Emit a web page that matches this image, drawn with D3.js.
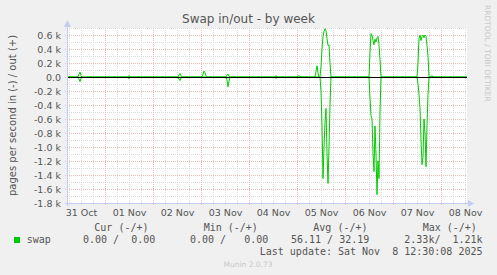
<!DOCTYPE html>
<html><head><meta charset="utf-8">
<script src="https://cdn.jsdelivr.net/npm/d3@7"></script>
<style>
body{margin:0;background:#f0f0f0}
svg{display:block}
text{white-space:pre}
</style>
</head><body>
<svg id="c" width="497" height="275"></svg>
<script>
// ---- data (pages per second) ----
const times = [
"2025-10-31 05:00",
"2025-10-31 10:30","2025-10-31 11:00","2025-10-31 11:30","2025-10-31 12:00","2025-10-31 12:30",
"2025-11-01 11:30","2025-11-01 12:00","2025-11-01 12:30",
"2025-11-02 12:30","2025-11-02 13:00","2025-11-02 13:30","2025-11-02 14:00","2025-11-02 14:30",
"2025-11-03 00:30","2025-11-03 01:00","2025-11-03 01:30","2025-11-03 02:00","2025-11-03 02:30","2025-11-03 03:00",
"2025-11-03 12:30","2025-11-03 13:00","2025-11-03 13:30","2025-11-03 14:00","2025-11-03 14:30",
"2025-11-04 13:00","2025-11-04 13:30","2025-11-04 14:00",
"2025-11-05 00:00","2025-11-05 00:30","2025-11-05 01:00","2025-11-05 01:30","2025-11-05 02:00",
"2025-11-05 09:00","2025-11-05 09:30","2025-11-05 10:00","2025-11-05 10:30","2025-11-05 11:00",
"2025-11-05 11:30","2025-11-05 12:00","2025-11-05 12:30","2025-11-05 13:00","2025-11-05 13:30","2025-11-05 14:00",
"2025-11-05 14:30","2025-11-05 15:00","2025-11-05 15:30","2025-11-05 16:00","2025-11-05 16:30","2025-11-05 17:00",
"2025-11-06 12:00","2025-11-06 12:30","2025-11-06 13:00","2025-11-06 13:30","2025-11-06 14:00","2025-11-06 14:30",
"2025-11-06 15:00","2025-11-06 15:30","2025-11-06 16:00","2025-11-06 16:30","2025-11-06 17:00","2025-11-06 17:30","2025-11-06 18:00",
"2025-11-07 12:00","2025-11-07 12:30","2025-11-07 13:00","2025-11-07 13:30","2025-11-07 14:00","2025-11-07 14:30",
"2025-11-07 15:00","2025-11-07 15:30","2025-11-07 16:00","2025-11-07 16:30","2025-11-07 17:00","2025-11-07 17:30","2025-11-07 18:00",
"2025-11-07 19:00","2025-11-07 19:30","2025-11-07 20:00",
"2025-11-08 13:00"
];
const swapOut = [
0,
0,40,70,20,0,
0,20,0,
0,30,50,20,0,
0,40,85,60,20,0,
0,30,40,10,0,
0,20,0,
0,20,10,15,0,
0,80,160,60,0,
0,150,400,580,650,690,
660,550,450,460,200,0,
0,350,620,600,520,460,
540,500,560,580,460,250,0,
0,200,550,600,520,580,
600,560,600,580,450,300,0,
0,20,0,
0
];
const swapIn = [
0,
0,30,65,20,0,
0,25,0,
0,30,50,10,0,
0,0,0,0,0,0,
0,40,140,60,0,
0,20,0,
0,0,0,0,0,
0,0,0,0,0,
0,200,700,1450,1000,650,
450,1100,1520,1000,400,0,
0,300,550,600,1100,1350,
700,1100,1680,1200,1450,500,0,
0,100,250,450,900,1250,
1150,600,800,1280,700,250,0,
0,0,0,
0
];
const yMajor = [600,400,200,0,-200,-400,-600,-800,-1000,-1200,-1400,-1600,-1800];
const xDays = ["2025-10-31","2025-11-01","2025-11-02","2025-11-03","2025-11-04","2025-11-05","2025-11-06","2025-11-07","2025-11-08"];
const xLabels = ["31 Oct","01 Nov","02 Nov","03 Nov","04 Nov","05 Nov","06 Nov","07 Nov","08 Nov"];
const legendHeaders = ["Cur (-/+)","Min (-/+)","Avg (-/+)","Max (-/+)"];
const legendValues = ["0.00 /  0.00","0.00 /   0.00","56.11 / 32.19","2.33k/  1.21k"];
const seriesName = "swap";

// ---- layout ----
const parse = d3.timeParse("%Y-%m-%d %H:%M");
const parseDay = d3.timeParse("%Y-%m-%d");
const L=67, R=467, T=28, B=203;
const start = parse("2025-10-31 05:00"), end = parse("2025-11-08 13:00");
const x = d3.scaleTime().domain([start,end]).range([L,R]);
const y = d3.scaleLinear().domain([-1800,700]).range([B,T]);
const data = times.map((t,i)=>({t:parse(t), out:swapOut[i], inn:swapIn[i]}));

const svg = d3.select("#c");
const FONT = "DejaVu Sans, sans-serif";
const MONO = "DejaVu Sans Mono, monospace";
const TXT = "#555";
const GRID = "#dadada", MGRID = "#ecbcbc", AXIS = "#c4ccf2";

svg.append("rect").attr("width",497).attr("height",275).attr("fill","#f0f0f0");
svg.append("rect").attr("x",L).attr("y",T).attr("width",R-L).attr("height",B-T).attr("fill","#ffffff");

const px = v => Math.round(v)+0.5;

// minor grid
const yMinor = d3.range(-1700,701,100).filter(v=>v%200!==0);
svg.append("g").selectAll("line").data(yMinor).join("line")
  .attr("x1",L-2).attr("x2",R).attr("y1",d=>px(y(d))).attr("y2",d=>px(y(d)))
  .attr("stroke",GRID).attr("stroke-dasharray","1,1");
const xMinor = d3.timeHour.every(6).range(start,end).filter(d=>d.getHours()!==0);
svg.append("g").selectAll("line").data(xMinor).join("line")
  .attr("x1",d=>px(x(d))).attr("x2",d=>px(x(d))).attr("y1",T).attr("y2",B+2)
  .attr("stroke",GRID).attr("stroke-dasharray","1,1");
// major grid
svg.append("g").selectAll("line").data(yMajor.filter(v=>v!==-1800)).join("line")
  .attr("x1",L-2).attr("x2",R).attr("y1",d=>px(y(d))).attr("y2",d=>px(y(d)))
  .attr("stroke",MGRID).attr("stroke-dasharray","1,1");
const xMajor = d3.timeDay.range(start,end);
svg.append("g").selectAll("line").data(xMajor).join("line")
  .attr("x1",d=>px(x(d))).attr("x2",d=>px(x(d))).attr("y1",T).attr("y2",B+3)
  .attr("stroke",MGRID).attr("stroke-dasharray","1,1");

// data lines
const lineOut = d3.line().x(d=>x(d.t)).y(d=>y(d.out));
const lineIn = d3.line().x(d=>x(d.t)).y(d=>y(-d.inn));
svg.append("path").datum(data).attr("d",lineIn).attr("fill","none").attr("stroke","#00cc00").attr("stroke-width",1);
svg.append("path").datum(data).attr("d",lineOut).attr("fill","none").attr("stroke","#00cc00").attr("stroke-width",1);

// zero line
svg.append("line").attr("x1",L).attr("x2",R).attr("y1",px(y(0))).attr("y2",px(y(0)))
  .attr("stroke","#000").attr("stroke-width",1);

// axes lines + arrows
svg.append("line").attr("x1",L+0.5).attr("x2",L+0.5).attr("y1",B+3).attr("y2",T-5).attr("stroke",AXIS);
svg.append("path").attr("d",`M${L-3},${T-1} L${L+4},${T-1} L${L+0.5},${T-8} Z`).attr("fill",AXIS);
svg.append("line").attr("x1",L-2).attr("x2",R+3).attr("y1",B+0.5).attr("y2",B+0.5).attr("stroke",AXIS);
svg.append("path").attr("d",`M${R+1},${B-3} L${R+1},${B+4} L${R+7},${B+0.5} Z`).attr("fill",AXIS);

// y axis labels
const yAxis = d3.axisLeft(y).tickValues(yMajor).tickSize(0).tickPadding(0)
  .tickFormat(v => v===0 ? "0.0" : (v/1000).toFixed(1)+" k");
const gy = svg.append("g").attr("transform",`translate(${L-6},0.5)`).call(yAxis);
gy.select(".domain").remove();
gy.selectAll("text").attr("fill",TXT).attr("font-family",FONT).attr("font-size","9.5px").attr("dy","0.34em");

// x axis labels
const xAxis = d3.axisBottom(x).tickValues(xDays.map(d=>d3.timeHour.offset(parseDay(d),12)))
  .tickSize(0).tickPadding(0).tickFormat((d,i)=>xLabels[i]);
const gx = svg.append("g").attr("transform",`translate(0,${B+6})`).call(xAxis);
gx.select(".domain").remove();
gx.selectAll("text").attr("fill",TXT).attr("font-family",FONT).attr("font-size","9.5px").attr("dy","0.75em");

// title
svg.append("text").attr("x",248.5).attr("y",23.3).attr("text-anchor","middle")
  .attr("font-family",FONT).attr("font-size","12px").attr("fill",TXT).text("Swap in/out - by week");

// y label
svg.append("text").attr("transform",`translate(15.5,${(T+B)/2}) rotate(-90)`).attr("text-anchor","middle")
  .attr("font-family",FONT).attr("font-size","10px").attr("fill",TXT).text("pages per second in (-) / out (+)");

// watermark
svg.append("text").attr("transform","translate(485,5) rotate(90)")
  .attr("font-family",FONT).attr("font-size","7.5px").attr("fill","#c8c8c8").text("RRDTOOL / TOBI OETIKER");

// legend
const hdrX = [94.3,203.7,313.3,422.7];
const valX = [83,190,291,404.3];
svg.append("g").selectAll("text").data(legendHeaders).join("text")
  .attr("x",(d,i)=>hdrX[i]).attr("y",231).attr("font-family",MONO).attr("font-size","10px").attr("fill",TXT).text(d=>d);
svg.append("rect").attr("x",14).attr("y",237).attr("width",6).attr("height",6).attr("fill","#00cc00");
svg.append("text").attr("x",26.7).attr("y",242.7).attr("font-family",MONO).attr("font-size","10px").attr("fill",TXT).text(seriesName);
svg.append("g").selectAll("text").data(legendValues).join("text")
  .attr("x",(d,i)=>valX[i]).attr("y",242.7).attr("font-family",MONO).attr("font-size","10px").attr("fill",TXT).text(d=>d);
svg.append("text").attr("x",482.5).attr("y",255).attr("text-anchor","end").attr("font-family",MONO).attr("font-size","10px").attr("fill",TXT)
  .text("Last update: Sat Nov  8 12:30:08 2025");
svg.append("text").attr("x",248).attr("y",266.5).attr("text-anchor","middle").attr("font-family",FONT).attr("font-size","7.5px").attr("fill","#c8c8c8")
  .text("Munin 2.0.73");
</script>
</body></html>
